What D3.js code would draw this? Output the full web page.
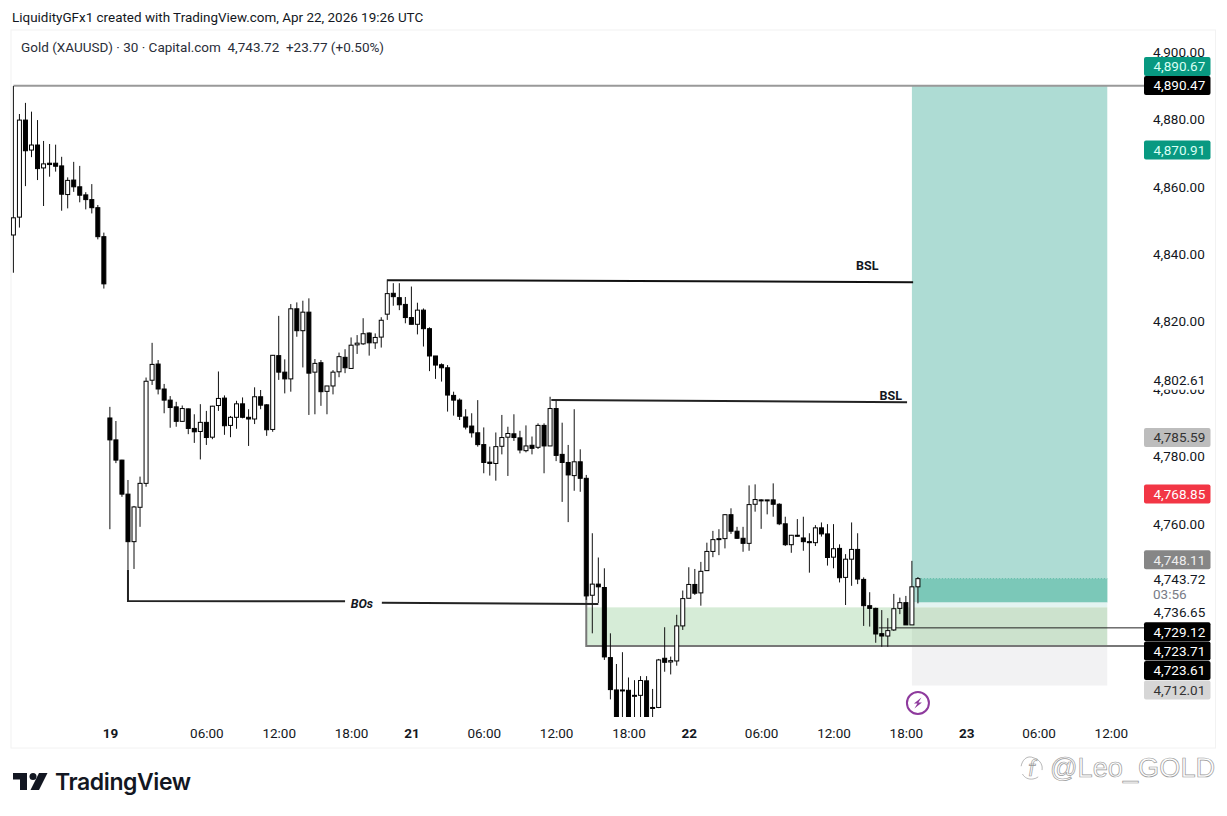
<!DOCTYPE html>
<html>
<head>
<meta charset="utf-8">
<script src="https://cdn.jsdelivr.net/npm/d3@7/dist/d3.min.js"></script>
<style>
  html, body { margin: 0; background: #fff; }
  svg { display: block; font-family: Roboto, sans-serif; }
  .axis path, .axis line { display: none; }
  .axis text { fill: #131722; font-size: 13.5px; font-family: Roboto, sans-serif; }
</style>
</head>
<body>
<svg id="chart" width="1227" height="816"></svg>
<script>
// Candles, one value per 30 min bar
const opens = [4845.7,4851.0,4879.8,4870.9,4872.4,4865.6,4867.0,4867.0,4866.2,4857.7,4862.0,4860.0,4857.6,4856.2,4853.8,4845.2,
  4791.4,4784.9,4778.9,4768.8,4754.7,4764.9,4772.0,4802.6,4807.4,4800.0,4796.7,4794.7,4790.4,4794.1,4788.3,4787.4,
  4790.1,4785.7,4795.1,4797.3,4789.2,4791.6,4795.6,4791.6,4791.1,4797.7,4795.3,4788.0,4809.9,4805.0,4803.0,4823.8,
  4817.3,4822.8,4805.0,4807.8,4799.3,4800.9,4805.1,4809.4,4806.1,4813.1,4813.4,4816.6,4813.7,4815.4,4822.2,4828.4,
  4827.1,4825.1,4821.2,4819.2,4823.4,4817.9,4809.8,4807.2,4806.3,4798.1,4796.7,4791.7,4789.0,4787.0,4783.5,4778.3,
  4777.9,4783.0,4785.7,4786.7,4785.5,4781.7,4783.3,4782.7,4789.2,4783.1,4794.2,4780.6,4778.2,4774.3,4778.4,4773.5,
  4738.8,4742.1,4741.1,4720.3,4710.7,4710.6,4710.6,4708.9,4709.1,4713.4,4705.3,4705.5,4720.1,4719.0,4719.3,4729.7,
  4737.9,4742.0,4739.5,4746.1,4751.8,4755.4,4755.6,4762.7,4757.8,4755.7,4754.2,4765.8,4766.8,4766.8,4767.1,4765.8,
  4760.0,4753.8,4756.6,4755.8,4754.7,4754.4,4758.8,4757.0,4750.1,4752.7,4744.1,4749.5,4752.4,4743.5,4735.7,4734.9,
  4727.4,4726.7,4728.5,4734.9,4736.6,4730.0,4741.3]
const highs = [4889.9,4881.6,4884.9,4882.3,4879.8,4873.6,4872.7,4872.5,4868.9,4862.8,4867.4,4866.2,4858.4,4860.8,4854.6,4846.4,
  4794.7,4790.5,4779.0,4773.0,4765.3,4774.0,4803.4,4813.7,4808.6,4801.5,4797.9,4796.2,4795.1,4794.2,4792.5,4795.5,
  4793.5,4795.0,4805.2,4798.1,4792.0,4796.5,4797.5,4794.0,4800.5,4799.7,4795.5,4810.1,4821.7,4808.8,4825.2,4825.7,
  4826.2,4826.9,4808.9,4808.6,4800.9,4805.6,4810.8,4811.8,4815.3,4816.0,4821.0,4816.8,4816.5,4821.3,4832.5,4831.4,
  4831.4,4827.3,4830.4,4825.6,4823.9,4818.3,4809.8,4807.6,4807.1,4799.2,4797.2,4794.0,4792.8,4796.7,4788.6,4782.9,
  4787.1,4792.3,4788.8,4792.5,4787.6,4789.2,4785.9,4789.8,4789.8,4797.7,4796.5,4790.0,4783.4,4794.0,4782.1,4774.5,
  4757.2,4750.0,4746.8,4727.5,4718.4,4721.9,4714.4,4713.6,4714.8,4714.8,4711.0,4719.9,4729.3,4720.6,4733.0,4740.2,
  4747.1,4746.6,4748.7,4754.4,4757.9,4758.4,4762.9,4764.6,4759.1,4759.1,4771.4,4771.7,4767.3,4767.1,4772.0,4766.1,
  4762.1,4756.7,4761.4,4762.1,4757.2,4759.6,4760.4,4759.9,4759.9,4753.9,4751.0,4760.4,4757.2,4744.1,4739.7,4735.1,
  4734.4,4732.0,4739.2,4738.1,4738.6,4749.0,4744.2]
const lows = [4834.5,4847.9,4860.2,4868.8,4862.0,4854.3,4863.0,4864.5,4852.9,4853.6,4858.5,4855.4,4853.3,4852.1,4844.4,4829.8,
  4758.4,4778.0,4768.0,4746.3,4746.6,4759.1,4771.0,4801.2,4798.4,4792.8,4788.5,4788.8,4790.3,4786.6,4784.0,4779.1,
  4783.4,4785.1,4793.5,4786.4,4785.7,4788.2,4791.3,4783.1,4789.6,4794.0,4786.1,4787.3,4802.7,4798.7,4799.2,4815.5,
  4806.4,4792.3,4792.5,4795.0,4792.5,4798.4,4803.5,4804.7,4806.0,4810.4,4813.1,4809.9,4811.9,4812.3,4820.5,4824.7,
  4823.4,4819.5,4819.2,4816.2,4812.6,4805.3,4803.0,4802.2,4793.3,4792.1,4790.8,4788.0,4785.6,4782.9,4775.0,4774.3,
  4772.8,4780.6,4774.2,4784.6,4780.9,4781.2,4780.6,4782.2,4775.0,4783.1,4778.6,4766.5,4760.5,4769.8,4769.5,4737.4,
  4727.5,4736.5,4719.6,4707.9,4698,4698,4697,4700,4701,4698,4702,4705.3,4716.1,4715.3,4717.9,4728.5,
  4737.9,4738.9,4735.7,4746.0,4750.1,4750.7,4752.7,4757.0,4755.5,4751.7,4752.0,4763.6,4758.5,4762.8,4762.1,4759.6,
  4753.4,4751.4,4756.2,4752.0,4745.5,4753.4,4756.2,4747.6,4746.8,4742.6,4735.9,4741.6,4742.1,4729.7,4729.5,4724.7,
  4723.5,4723.5,4728.2,4733.2,4730.0,4730.0,4736.4]
const closes = [4850.8,4879.8,4870.7,4872.4,4865.4,4866.8,4866.6,4866.1,4857.8,4861.9,4860.0,4857.5,4856.2,4853.8,4845.2,4831.2,
  4784.9,4778.9,4768.8,4754.7,4765.0,4772.0,4802.3,4807.3,4800.0,4796.7,4794.5,4790.4,4794.2,4788.3,4787.3,4790.1,
  4785.6,4794.9,4797.2,4789.1,4791.6,4795.6,4791.6,4791.1,4797.7,4795.2,4787.9,4810.0,4805.0,4803.0,4823.8,4817.3,
  4822.8,4804.7,4807.6,4799.2,4800.9,4805.0,4809.6,4806.3,4813.0,4813.6,4816.4,4813.7,4815.3,4820.4,4828.3,4827.4,
  4825.0,4821.2,4819.2,4823.4,4817.9,4809.8,4807.1,4806.3,4798.2,4796.7,4791.9,4788.7,4787.0,4783.5,4778.2,4777.9,
  4782.9,4785.6,4786.8,4785.6,4781.9,4783.1,4782.4,4789.2,4783.1,4794.2,4780.3,4778.2,4774.5,4778.4,4773.5,4738.6,
  4742.1,4741.3,4720.5,4710.8,4700,4710.7,4699,4709.1,4713.5,4700,4705.5,4719.6,4718.9,4719.4,4729.7,4737.8,
  4742.0,4739.4,4745.9,4751.8,4755.3,4755.6,4762.7,4757.8,4755.7,4754.2,4765.7,4767.2,4767.1,4767.1,4765.8,4760.0,
  4753.8,4756.6,4756.3,4754.7,4754.4,4758.8,4757.0,4750.0,4752.6,4744.0,4749.5,4752.4,4743.6,4735.7,4734.9,4727.3,
  4726.7,4728.3,4734.8,4736.6,4730.0,4741.3,4743.72]

// Time axis, in bar numbers
const timeTicks = [16,32,44,56,66,78,90,102,112,124,136,148,158,170,182]
const timeLabels = ['19','06:00','12:00','18:00','21','06:00','12:00','18:00','22','06:00','12:00','18:00','23','06:00','12:00']
const dayLabels = ['19','21','22','23']

const priceTicks = [4900,4880,4860,4840,4820,4800,4780,4760]

// Price labels on the right, shift = how far the label was pushed off its price
const labelValues = [4802.61,4743.72,4736.65,4785.59,4768.85,4870.91,4748.11,4729.12,4723.71,4723.61,4712.01,4890.67,4890.47]
const labelFills =  ['#fff','#fff','#fff','#bdbdbd','#f23645','#089981','#868686','#000','#000','#000','#d6d6d6','#089981','#000']
const labelInks =   ['#131722','#131722','#131722','#333','#fff','#d8fff4','#eee','#fff','#fff','#fff','#333','#d8fff4','#fff']
const labelShift =  [0,0,10,0,0,0,-4,4,5,24,4.5,-17,1.4]

// Drawn levels, [bar, price]
const bsl1 = [[62,4832.3],[149.2,4831.7]]
const bsl2 = [[89.2,4796.7],[148.2,4796.1]]
const bosLeft = [[19,4746.3],[19,4737.1],[55,4737.0]]
const bosRight = [[61.1,4736.6],[97,4736.2]]
const zoneTop = 4735.2
const zoneBottom = 4723.71
const targetPrice = 4890.0
const entryPrice = 4736.65
const stopPrice = 4712.01
const lastPrice = 4743.72
const topLine = 4890.0
const midLine = 4729.12

const x = d3.scaleLinear().domain([0, 182]).range([13.4, 1110.9])
const y = d3.scaleLinear().domain([4900, 4700]).range([52, 726])

const svg = d3.select('#chart')
const axisX = 1144
const boxRight = x(181.4)

// Outer frame
svg.append('rect').attr('x', 11).attr('y', 30).attr('width', 1204.5).attr('height', 718)
  .attr('fill', 'none').attr('stroke', '#f2f2f2')

svg.append('text').attr('x', 12).attr('y', 21.5).attr('font-size', 13.45).attr('fill', '#131722')
  .text('LiquidityGFx1 created with TradingView.com, Apr 22, 2026 19:26 UTC')

svg.append('text').attr('x', 21).attr('y', 52).attr('font-size', 13.5).attr('fill', '#2a2e39')
  .attr('xml:space', 'preserve')
  .text('Gold (XAUUSD) \u00b7 30 \u00b7 Capital.com  4,743.72  +23.77 (+0.50%)')

svg.append('clipPath').attr('id', 'pane').append('rect')
  .attr('x', 11).attr('y', 30).attr('width', axisX - 11).attr('height', 687)

const pane = svg.append('g').attr('clip-path', 'url(#pane)')

// Position box
const band = (x0, x1, top, bottom, fill) => pane.append('rect')
  .attr('x', x0).attr('width', x1 - x0).attr('y', y(top)).attr('height', y(bottom) - y(top)).attr('fill', fill)

band(x(149), boxRight, targetPrice, entryPrice, '#aedcd4')
band(x(150), boxRight, lastPrice, entryPrice, '#7bc8b8')
band(x(149), boxRight, entryPrice, zoneTop, '#e3f4f1')
band(x(149), boxRight, zoneTop, stopPrice, '#f2f2f3')
band(x(95), boxRight, zoneTop, zoneBottom, 'rgba(76,175,80,0.23)')
pane.append('line').attr('x1', x(150)).attr('x2', boxRight).attr('y1', y(lastPrice)).attr('y2', y(lastPrice))
  .attr('stroke', '#5dbba8').attr('stroke-dasharray', '1,2')

// Levels under the candles
const line = d3.line().x(d => x(d[0])).y(d => y(d[1]))
const level = (pts, color, w) => pane.append('path').attr('d', line(pts))
  .attr('fill', 'none').attr('stroke', color).attr('stroke-width', w)

pane.append('line').attr('x1', x(0)).attr('x2', axisX).attr('y1', y(topLine)).attr('y2', y(topLine))
  .attr('stroke', '#999').attr('stroke-width', 2)
pane.append('path').attr('d', `M${x(95)},${y(4738.6)}V${y(zoneBottom)}H${axisX}`)
  .attr('fill', 'none').attr('stroke', '#777').attr('stroke-width', 2)
pane.append('line').attr('x1', x(143.5)).attr('x2', axisX).attr('y1', y(midLine)).attr('y2', y(midLine))
  .attr('stroke', '#222').attr('stroke-width', 1)

// Candles
const candles = opens.map((o, i) => ({ i, o, h: highs[i], l: lows[i], c: closes[i] }))
const bars = pane.selectAll('g.bar').data(candles).join('g').attr('class', 'bar')

bars.append('line')
  .attr('x1', d => x(d.i)).attr('x2', d => x(d.i))
  .attr('y1', d => y(d.h)).attr('y2', d => y(d.l))
  .attr('stroke', '#111')

bars.append('rect')
  .attr('x', d => x(d.i) - 2)
  .attr('width', 4)
  .attr('y', d => y(Math.max(d.o, d.c)))
  .attr('height', d => Math.max(1, Math.abs(y(d.o) - y(d.c))))
  .attr('fill', d => d.c >= d.o ? '#fff' : '#000')
  .attr('stroke', '#000')

// Levels over the candles
level(bsl1, '#111', 2)
level(bsl2, '#222', 2)
level(bosLeft, '#222', 2)
level(bosRight, '#222', 2)

const note = (bar, price, label, italic) => pane.append('text')
  .attr('x', x(bar)).attr('y', y(price)).attr('text-anchor', 'middle').attr('dominant-baseline', 'central')
  .attr('font-size', 12.5).attr('font-weight', 700).attr('font-style', italic ? 'italic' : 'normal')
  .attr('fill', '#131722').text(label)

note(141.6, 4836.5, 'BSL')
note(145.5, 4798.1, 'BSL')
note(57.8, 4736.4, 'BOs', true)

// Bolt marker on the last session
const bolt = svg.append('g').attr('transform', `translate(${x(150)},703)`)
bolt.append('circle').attr('r', 11).attr('fill', '#fff').attr('stroke', '#8e3a9d').attr('stroke-width', 2)
bolt.append('path').attr('d', 'M3.5,-5.5L-4,0.5H-0.5L-3.5,5.5L4,-0.5H0.5Z').attr('fill', '#8e3a9d')

// Price axis
const priceAxis = d3.axisRight(y).tickValues(priceTicks).tickSize(0).tickPadding(0).tickFormat(d3.format(',.2f'))
svg.append('g').attr('class', 'axis').attr('transform', 'translate(1153,0)').call(priceAxis)

const tags = svg.append('g').selectAll('g').data(labelValues).join('g')
  .attr('transform', (d, i) => `translate(${axisX},${y(d) + labelShift[i]})`)

tags.append('rect').attr('x', 0).attr('y', -9.5).attr('width', 66.5).attr('height', 19).attr('rx', 2)
  .attr('fill', (d, i) => labelFills[i])

tags.append('text').attr('x', 9.5).attr('dy', '0.36em').attr('font-size', 13.5)
  .attr('fill', (d, i) => labelInks[i]).text(d3.format(',.2f'))

svg.append('text').attr('x', 1153).attr('y', 598.5).attr('font-size', 13.5).attr('fill', '#787b86').text('03:56')

// Time axis
const timeAxis = d3.axisBottom(x).tickValues(timeTicks).tickSize(0).tickPadding(0)
  .tickFormat((d, i) => timeLabels[i])
svg.append('g').attr('class', 'axis').attr('transform', 'translate(0,728)').call(timeAxis)
  .selectAll('text').attr('font-weight', (d, i) => dayLabels.includes(timeLabels[i]) ? 700 : 400)

// TradingView mark
const logo = svg.append('g').attr('fill', '#131722')
logo.append('path').attr('d', 'M13,773H27V790H20V779.5H13Z')
logo.append('circle').attr('cx', 33).attr('cy', 776.5).attr('r', 3.5)
logo.append('path').attr('d', 'M39,773H47.5L39,790H30.5Z')
logo.append('text').attr('x', 55).attr('y', 790).attr('font-size', 23).attr('font-weight', 600)
  .attr('font-family', 'Inter, Roboto, sans-serif').attr('letter-spacing', '-0.4').text('TradingView')

// Watermark
const mark = svg.append('g').attr('fill', '#fff').attr('stroke', '#999').attr('stroke-width', 0.7)
mark.append('path').attr('d', 'M1034,758C1026,754 1021,762 1021,768C1021,775 1026,780 1033,779C1040,778 1043,772 1042,766C1041,762 1038,759 1034,758')
  .attr('stroke-dasharray', '18,8')
mark.append('text').attr('x', 1028).attr('y', 776).attr('font-size', 22).attr('font-style', 'italic').text('f')
mark.append('text').attr('x', 1050).attr('y', 777).attr('font-size', 27.2).attr('font-family', 'Liberation Sans, sans-serif')
  .text('@Leo_GOLD')
</script>
</body>
</html>
